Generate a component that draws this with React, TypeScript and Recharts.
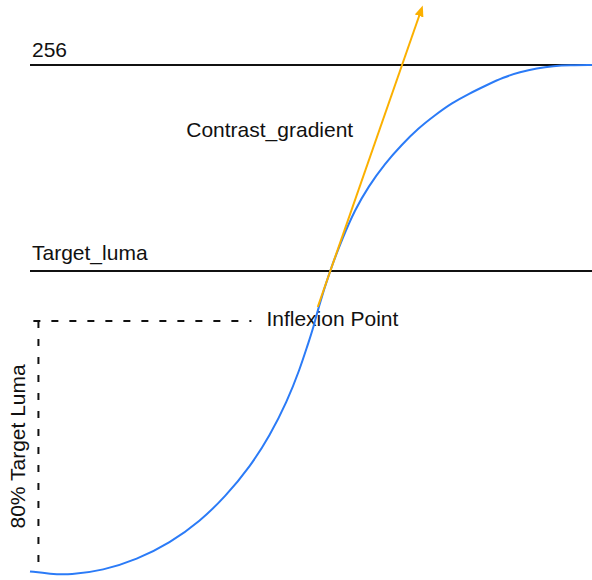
import { LineChart, Line, XAxis, YAxis, ReferenceLine, ReferenceDot } from 'recharts';

// blue tone curve (x: 0-100, y: luma)
const curveX = [0, 3.6, 7.1, 13.0, 19.0, 24.9, 30.3, 34.7, 39.2, 42.7, 45.7, 48.0, 49.5, 50.3, 51.3, 53.3, 55.6, 57.8, 60.2, 63.2, 66.1, 69.1, 72.1, 75.0, 78.0, 81.3, 84.2, 87.2, 90.2, 93.1, 96.1, 100];
const curveY = [2.8, 1.5, 1.0, 3.3, 8.7, 17.0, 28.0, 40.0, 55.3, 70.8, 87.5, 103.8, 116.9, 123.5, 134.5, 152.7, 169.4, 183.5, 195.2, 206.9, 216.0, 224.4, 231.0, 236.9, 241.5, 246.0, 249.8, 252.5, 254.4, 255.5, 255.9, 256];

// tangent arrow at the inflexion point
const gradientX = [51.2, 69.3];
const gradientY = [135, 281];

const lumaMax = 256;
const targetLuma = 153;
const lowLuma = 128; // 80% target luma
const bracketX = [0.6, 39.4];
const bracketBottom = 2.6;
const gradientLabelAt = { x: 27.8, y: 220 };

const curve = curveX.map((x, i) => ({ x, y: curveY[i] }));
const gradient = gradientX.map((x, i) => ({ x, y: gradientY[i] }));

const font = { fontFamily: '"Liberation Sans", Arial, Helvetica, sans-serif', fontSize: 21, fill: '#111' };

const textAt = (value: string, dx: number, dy: number) => (props: any) => {
    const vb = props.viewBox || {};
    return <text x={vb.x + dx} y={vb.y + dy} {...font}>{value}</text>;
};

export default function App() {
    return (
        <div style={{ position: 'absolute', left: 0, top: 0, background: '#fff' }}>
            <LineChart width={592} height={580} margin={{ top: 0, right: 0, left: 30, bottom: 3 }}>
                <defs>
                    <marker id="arrowHead" markerUnits="userSpaceOnUse" markerWidth={11} markerHeight={9} refX={1} refY={4.5} orient="auto">
                        <path d="M0,0 L11,4.5 L0,9 z" fill="#fbb000" />
                    </marker>
                </defs>
                <XAxis type="number" dataKey="x" domain={[0, 100]} hide />
                <YAxis type="number" dataKey="y" domain={[0, 288.5]} hide />
                <ReferenceLine y={lumaMax} stroke="#111" strokeWidth={2} label={textAt('256', 2, -8)} />
                <ReferenceLine y={targetLuma} stroke="#111" strokeWidth={2} label={textAt('Target_luma', 2, -11)} />
                <ReferenceLine
                    segment={[{ x: bracketX[0], y: lowLuma }, { x: bracketX[1], y: lowLuma }]}
                    stroke="#111" strokeWidth={2} strokeDasharray="7 11"
                    label={(p: any) => {
                        const vb = p.viewBox || {};
                        return <text x={vb.x + (vb.width || 0) + 15} y={vb.y + 4.5} {...font}>Inflexion Point</text>;
                    }}
                />
                <ReferenceLine
                    segment={[{ x: 1.5, y: lowLuma }, { x: 1.5, y: bracketBottom }]}
                    stroke="#111" strokeWidth={2} strokeDasharray="7 11"
                    label={(p: any) => {
                        const vb = p.viewBox || {};
                        const cx = vb.x - 13;
                        const cy = vb.y + (vb.height || 0) / 2;
                        return (
                            <text x={cx} y={cy} textAnchor="middle" transform={`rotate(-90, ${cx}, ${cy})`} {...font}>
                                80% Target Luma
                            </text>
                        );
                    }}
                />
                <ReferenceDot x={gradientLabelAt.x} y={gradientLabelAt.y} r={0} stroke="none" fill="none" label={textAt('Contrast_gradient', 0, 0)} />
                <Line data={curve} dataKey="y" type="basis" stroke="#2b7bf7" strokeWidth={2} dot={false} isAnimationActive={false} />
                <Line data={gradient} dataKey="y" type="linear" stroke="#fbb000" strokeWidth={2} dot={false} markerEnd="url(#arrowHead)" isAnimationActive={false} />
            </LineChart>
        </div>
    );
}
